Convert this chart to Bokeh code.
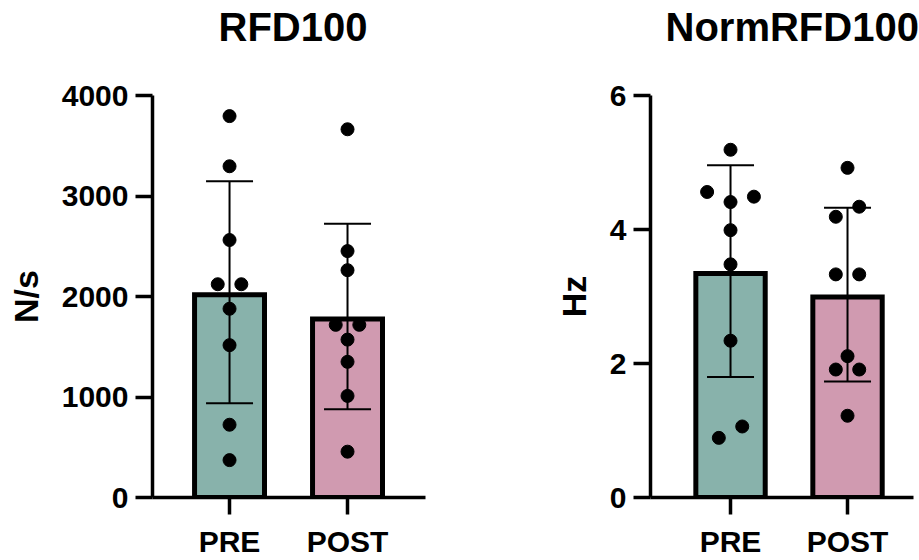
import numpy as np
from bokeh.plotting import figure
from bokeh.layouts import row
from bokeh.models import Range1d, FixedTicker, Whisker, TeeHead, ColumnDataSource, Title
from bokeh.embed import file_html
from bokeh.resources import INLINE

# ---------------- data ----------------
categories = ["PRE", "POST"]
bar_colors = ["#88B2AB", "#D09AB0"]

rfd_title = "RFD100"
rfd_unit = "N/s"
rfd_pre = [3795, 3296, 2562, 2122, 2122, 1878, 1516, 724, 372]
rfd_post = [3664, 2452, 2262, 1718, 1718, 1571, 1350, 1011, 456]
rfd_ticks = [0, 1000, 2000, 3000, 4000]

norm_title = "NormRFD100"
norm_unit = "Hz"
norm_pre = [5.19, 4.56, 4.49, 4.41, 3.99, 3.48, 2.34, 1.06, 0.89]
norm_post = [4.92, 4.34, 4.19, 3.33, 3.33, 2.11, 1.91, 1.91, 1.22]
norm_ticks = [0, 2, 4, 6]

FONT = "Liberation Sans"
FRAME_H = 409          # plot-area height in pixels
BAR_STROKE = 5         # bar outline width in pixels


def swarm_offsets(vals, row_h, step):
    """Group nearly equal values into rows and spread each row symmetrically."""
    vals = np.asarray(vals, float)
    order = np.argsort(vals, kind="stable")
    rows = []
    for i in order:
        if rows and vals[i] - vals[rows[-1][0]] < row_h:
            rows[-1].append(i)
        else:
            rows.append([i])
    offs = np.zeros(len(vals))
    for r in rows:
        n = len(r)
        if n % 2 == 1:
            seq, k = [0.0], 1.0
        else:
            seq, k = [], 0.5
        while len(seq) < n:
            seq += [-k, k] if n % 2 == 0 else [k, -k]
            k += 1
        for idx, o in zip(r, seq[:n]):
            offs[idx] = o * step
    return offs


def make_panel(title, ylabel, groups, ticks, width, mbl, mbr, xr, title_offset):
    xs = np.arange(1, len(categories) + 1)
    data = [np.asarray(g, float) for g in groups]
    means = np.array([d.mean() for d in data])
    sds = np.array([d.std(ddof=1) for d in data])
    span = ticks[-1] - ticks[0]
    per_px = span / FRAME_H

    p = figure(width=width, height=560, output_backend="svg", toolbar_location=None,
               x_range=Range1d(*xr), y_range=Range1d(ticks[0], ticks[-1]),
               min_border_left=mbl, min_border_right=mbr,
               min_border_top=95, min_border_bottom=56)
    p.background_fill_color = "white"
    p.border_fill_color = "white"
    p.outline_line_color = None
    p.xgrid.visible = False
    p.ygrid.visible = False

    # outline drawn inside the bar: outer edge sits at the mean
    p.vbar(x=xs, top=means - per_px * BAR_STROKE / 2, bottom=0, width=0.593,
           fill_color=bar_colors, line_color="black", line_width=BAR_STROKE,
           line_join="miter")

    src = ColumnDataSource(dict(x=xs, upper=means + sds, lower=means - sds))
    w = Whisker(source=src, base="x", upper="upper", lower="lower",
                line_color="black", line_width=2,
                upper_head=TeeHead(size=47, line_width=2, line_color="black"),
                lower_head=TeeHead(size=47, line_width=2, line_color="black"))
    w.level = "glyph"
    p.add_layout(w)

    for x0, d in zip(xs, data):
        offs = swarm_offsets(d, row_h=per_px * 12.5, step=0.2)
        p.scatter(x=x0 + offs, y=d, size=13, fill_color="black", line_color="black")

    p.xaxis.ticker = FixedTicker(ticks=list(xs))
    p.xaxis.major_label_overrides = {int(x): c for x, c in zip(xs, categories)}
    p.yaxis.ticker = FixedTicker(ticks=ticks)
    p.yaxis.axis_label = ylabel

    for ax in (p.xaxis[0], p.yaxis[0]):
        ax.axis_line_color = "black"
        ax.axis_line_width = 3.5
        ax.major_tick_line_color = "black"
        ax.major_tick_line_width = 3.5
        ax.major_tick_out = 17
        ax.major_tick_in = 0
        ax.minor_tick_out = 0
        ax.minor_tick_in = 0
        ax.major_label_text_font = FONT
        ax.major_label_text_font_style = "bold"
        ax.major_label_text_font_size = "30px"
        ax.major_label_text_color = "black"
    p.yaxis.major_label_standoff = 7
    p.xaxis.major_label_standoff = 10
    p.yaxis.axis_label_text_font = FONT
    p.yaxis.axis_label_text_font_style = "bold"
    p.yaxis.axis_label_text_font_size = "34px"
    p.yaxis.axis_label_text_color = "black"
    p.yaxis.axis_label_standoff = 14

    # blank spacer panel next to the frame, then the real title above it
    p.add_layout(Title(text=" ", text_font_size="40px", standoff=0), "above")
    p.add_layout(Title(text=title, text_font=FONT, text_font_style="bold",
                       text_font_size="40px", text_color="black",
                       align="left", offset=title_offset, standoff=1,
                       vertical_align="bottom"), "above")
    return p


p1 = make_panel(rfd_title, rfd_unit, [rfd_pre, rfd_post], rfd_ticks,
                460, 152, 35, (0.347, 2.661), 66)
p2 = make_panel(norm_title, norm_unit, [norm_pre, norm_post], norm_ticks,
                459, 190, 6, (0.316, 2.564), 15)

layout = row(p1, p2, spacing=0)
open("out.html", "w").write(file_html(layout, INLINE))
